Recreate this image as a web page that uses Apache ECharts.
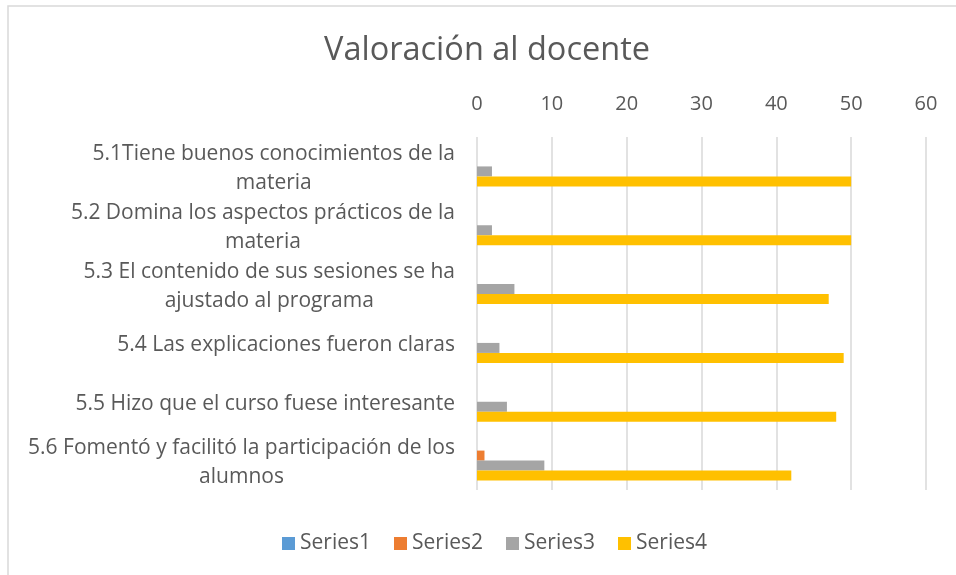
<!DOCTYPE html>
<html>
<head>
<meta charset="utf-8">
<script src="https://cdn.jsdelivr.net/npm/echarts@6/dist/echarts.min.js"></script>
<style>
  html, body { margin: 0; padding: 0; background: #fff; }
  #chart { width: 956px; height: 575px; }
</style>
</head>
<body>
<div id="chart"></div>
<script>
var categories = [
  '5.1Tiene buenos conocimientos de la\nmateria',
  '5.2 Domina los aspectos prácticos de la\nmateria',
  '5.3 El contenido de sus sesiones se ha\najustado al programa',
  '5.4 Las explicaciones fueron claras',
  '5.5 Hizo que el curso fuese interesante',
  '5.6 Fomentó y facilitó la participación de los\nalumnos'
];
var series1 = [0, 0, 0, 0, 0, 0];
var series2 = [0, 0, 0, 0, 0, 1];
var series3 = [2, 2, 5, 3, 4, 9];
var series4 = [50, 50, 47, 49, 48, 42];
var seriesNames = ['Series1', 'Series2', 'Series3', 'Series4'];
var seriesColors = ['#5B9BD5', '#ED7D31', '#A5A5A5', '#FFC000'];

var font = 'Open Sans';
var textColor = '#595959';

var chart = echarts.init(document.getElementById('chart'));

function makeBar(i, values) {
  return {
    name: seriesNames[i],
    type: 'bar',
    barWidth: 10,
    barGap: '0%',
    itemStyle: { color: seriesColors[i] },
    data: values
  };
}

chart.setOption({
  animation: false,
  textStyle: { fontFamily: font },
  graphic: [{
    type: 'rect',
    shape: { x: 8, y: 6, width: 1000, height: 700 },
    style: { fill: 'none', stroke: '#d9d9d9', lineWidth: 1.5 },
    z: -10
  }],
  title: {
    text: 'Valoración al docente',
    left: 482,
    textAlign: 'center',
    top: 29,
    textStyle: { fontFamily: font, fontSize: 32.5, fontWeight: 'normal', color: textColor }
  },
  legend: {
    data: seriesNames,
    bottom: 16,
    left: 277,
    itemWidth: 13,
    itemHeight: 13,
    itemGap: 23,
    icon: 'rect',
    textStyle: { fontFamily: font, fontSize: 21, color: textColor }
  },
  grid: { left: 477, right: 30, top: 137, bottom: 85, containLabel: false },
  xAxis: {
    type: 'value',
    position: 'top',
    min: 0,
    max: 60,
    interval: 10,
    axisLine: { show: false },
    axisTick: { show: false },
    axisLabel: { fontFamily: font, fontSize: 20, color: textColor, margin: 23 },
    splitLine: { lineStyle: { color: '#d9d9d9', width: 1.5 } }
  },
  yAxis: {
    type: 'category',
    inverse: true,
    data: categories,
    axisLine: { show: false },
    axisTick: { show: false },
    axisLabel: {
      margin: 22,
      align: 'right',
      padding: [4, 0, 0, 0],
      formatter: function (v) {
        return v.split('\n').map(function (s) { return '{c|' + s + '}'; }).join('\n');
      },
      rich: {
        c: { align: 'center', fontFamily: font, fontSize: 21, color: textColor, lineHeight: 29 }
      }
    }
  },
  series: [
    makeBar(0, series1),
    makeBar(1, series2),
    makeBar(2, series3),
    makeBar(3, series4)
  ]
});
</script>
</body>
</html>
